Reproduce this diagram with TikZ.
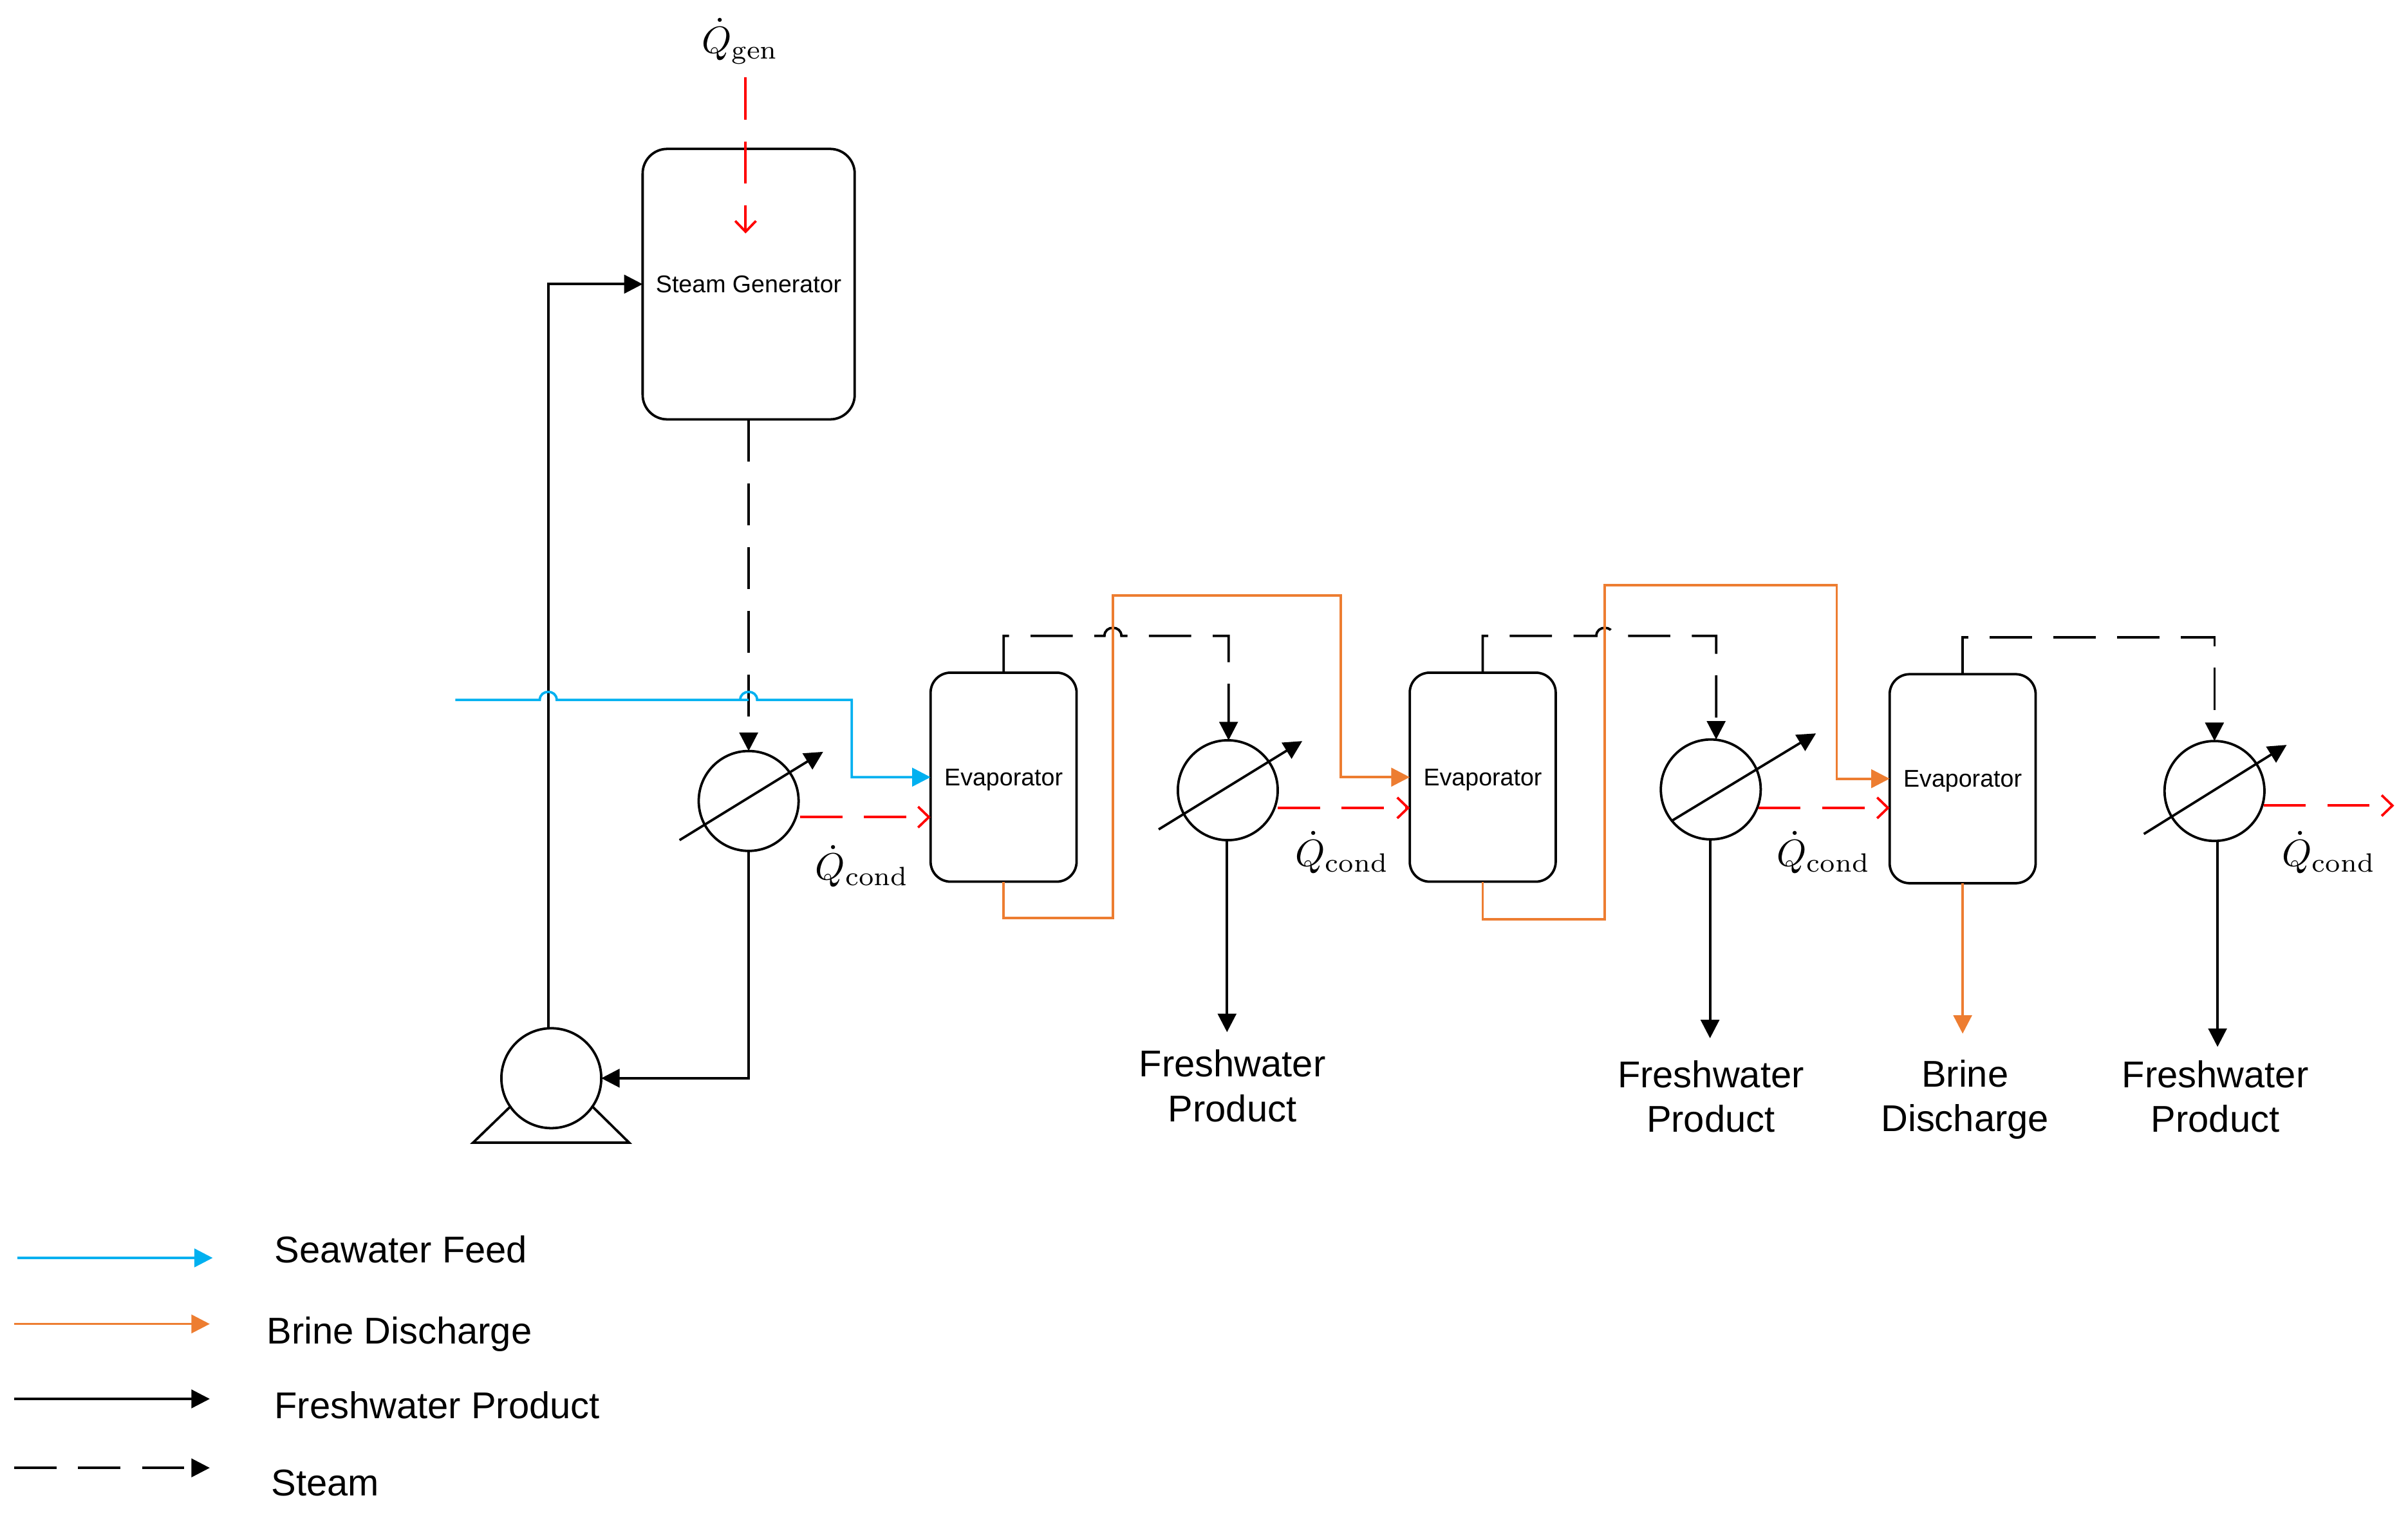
\documentclass[tikz,border=0pt]{standalone}
\usepackage{fix-cm}
\usepackage{fontspec}
\newfontfamily\arialfont{Liberation Sans}
\usetikzlibrary{arrows.meta}
\definecolor{feedblue}{HTML}{00B0F0}
\definecolor{brineorange}{HTML}{ED7D31}
\tikzset{
    >={Triangle[length=1.2mm,width=1.2mm]},
    every path/.style={line width=0.45pt},
    vessel/.style={draw,rectangle,inner sep=0pt,outer sep=0pt,rounded corners=0.13cm,minimum width=0.95cm,minimum height=1.36cm,text depth=0pt,font=\arialfont\fontsize{4.48}{5.4}\selectfont},
    exchanger/.style={draw,circle,inner sep=0pt,outer sep=0pt,minimum size=0.65cm},
    product/.style={->,color=black},
    brine/.style={->,color=brineorange},
    feed/.style={->,color=feedblue},
    steam/.style={->,color=black,dash pattern=on 2.75mm off 1.4mm},
    heat/.style={-{Straight Barb[length=0.7mm,width=1.35mm]},color=red,dash pattern=on 2.75mm off 1.4mm},
    biglabel/.style={align=center,inner sep=0pt,font=\arialfont\fontsize{6.9}{8.25}\selectfont},
    keylabel/.style={anchor=base west,inner sep=0pt,font=\arialfont\fontsize{6.9}{8.25}\selectfont},
    qlabel/.style={inner sep=0pt,scale=0.7}
}
\newcommand{\jumpat}[1]{-- ([xshift=-0.055cm]#1) .. controls ([shift={(-5.5,-7)}]#1) and ([shift={(5.5,-7)}]#1) .. ([xshift=0.055cm]#1) --}
\begin{document}
\begin{tikzpicture}[x=0.01cm,y=-0.01cm]
    \useasboundingbox (0,0) rectangle (1568,1000);
    % vessels and exchangers
    \node[vessel,rounded corners=0.16cm,minimum width=1.38cm,minimum height=1.76cm] (steamgen) at (487.5,185) {Steam Generator};
    \node[vessel] (evapa) at (653.5,506) {Evaporator};
    \node[vessel] (evapb) at (965.5,506) {Evaporator};
    \node[vessel] (evapc) at (1278,507) {Evaporator};
    \node[exchanger] (hxa) at (487.5,521.5) {};
    \node[exchanger] (hxb) at (799.5,514.5) {};
    \node[exchanger] (hxc) at (1114,514) {};
    \node[exchanger] (hxd) at (1442,515) {};
    \node[exchanger] (pump) at (359,702) {};
    \draw (332.8,720) -- (308,744) -- (409.7,744) -- (385.3,720);
    \draw[product] ([shift={(-45,25.5)}]hxa.center) -- ([shift={(48.5,-32)}]hxa.center);
    \draw[product] ([shift={(-45,25.5)}]hxb.center) -- ([shift={(48.5,-32)}]hxb.center);
    \draw[product] ([shift={(-24.7,20)}]hxc.center) -- ([shift={(68.5,-36.5)}]hxc.center);
    \draw[product] ([shift={(-46,28)}]hxd.center) -- ([shift={(47,-30)}]hxd.center);
    % turning points and free ends
    \coordinate (qgenin) at (485.5,50.5);
    \coordinate (qgenout) at (485.5,152);
    \coordinate (seain) at (296.5,455.7);
    \coordinate (seaturn) at (554.6,455.7);
    \coordinate (crossa) at (357,455.7);
    \coordinate (crossb) at (487.5,455.7);
    \coordinate (crossc) at (724.7,414);
    \coordinate (crossd) at (1045,414);
    \coordinate (steamb) at (800,414);
    \coordinate (steamc) at (1117.5,414);
    \coordinate (steamd) at (1442,415);
    \coordinate (brineaa) at (724.7,597.8);
    \coordinate (brineab) at (873,387.8);
    \coordinate (brineba) at (1045,598.5);
    \coordinate (brinebb) at (1196,381);
    \coordinate (brinec) at (1278,673);
    \coordinate (prodb) at (799,672);
    \coordinate (prodc) at (1113.5,676);
    \coordinate (prodd) at (1444,681.6);
    \coordinate (conda) at (521,532);
    \coordinate (condb) at (832,526);
    \coordinate (condc) at (1145,526);
    \coordinate (condd) at (1474,524.5);
    \coordinate (conddout) at (1559,524.5);
    % process lines
    \draw[heat] (qgenin) -- (qgenout);
    \draw[product] ([xshift=-0.02cm]pump.north) |- (steamgen.west);
    \draw[product] (hxa.south) |- (pump.east);
    \draw[steam] (steamgen.south) -- (hxa.north);
    \draw[feed] (seain) \jumpat{crossa} (crossb) ++(0,0) \jumpat{crossb} (seaturn) |- (evapa.west);
    \draw[steam] (evapa.north) -- (evapa.north |- steamb) \jumpat{crossc} (steamb) -- (hxb.north -| steamb);
    \draw[steam] (evapb.north) -- (evapb.north |- steamc) \jumpat{crossd} (steamc) -- (hxc.north -| steamc);
    \draw[steam] (evapc.north) -- (evapc.north |- steamd) -- (steamd) -- (hxd.north);
    \draw[brine] (evapa.south) |- (brineaa) |- (brineab) |- (evapb.west);
    \draw[brine] (evapb.south) |- (brineba) |- (brinebb) |- (evapc.west);
    \draw[brine] (evapc.south) -- (brinec);
    \draw[product] (prodb |- hxb.south) -- (prodb);
    \draw[product] (prodc |- hxc.south) -- (prodc);
    \draw[product] (prodd |- hxd.south) -- (prodd);
    \draw[heat] (conda) -- (conda -| evapa.west);
    \draw[heat] (condb) -- (condb -| evapb.west);
    \draw[heat] (condc) -- (condc -| evapc.west);
    \draw[heat] (condd) -- (conddout);
    % labels
    \node[qlabel] (qgen) at (482,27) {$\dot{Q}_{\mathrm{gen}}$};
    \node[qlabel] (qconda) at (561.5,564) {$\dot{Q}_{\mathrm{cond}}$};
    \node[qlabel] (qcondb) at (874,555) {$\dot{Q}_{\mathrm{cond}}$};
    \node[qlabel] (qcondc) at (1187.5,555) {$\dot{Q}_{\mathrm{cond}}$};
    \node[qlabel] (qcondd) at (1516.5,555) {$\dot{Q}_{\mathrm{cond}}$};
    \node[biglabel] (freshb) at (802.5,707) {Freshwater\\Product};
    \node[biglabel] (freshc) at (1114,714) {Freshwater\\Product};
    \node[biglabel] (dischargec) at (1279.5,716) {Brine\\Discharge};
    \node[biglabel] (freshd) at (1442.5,714) {Freshwater\\Product};
    % key
    \coordinate (keyaa) at (11.2,819);
    \coordinate (keyab) at (138.5,819);
    \coordinate (keyba) at (9.4,862);
    \coordinate (keybb) at (136.6,862);
    \coordinate (keyca) at (9.4,910.8);
    \coordinate (keycb) at (136.6,910.8);
    \coordinate (keyda) at (9.4,955.7);
    \coordinate (keydb) at (136.6,955.7);
    \draw[feed] (keyaa) -- (keyab);
    \draw[brine] (keyba) -- (keybb);
    \draw[product] (keyca) -- (keycb);
    \draw[steam] (keyda) -- (keydb);
    \node[keylabel] (keyfeed) at (178,822) {Seawater Feed};
    \node[keylabel] (keybrine) at (173,875) {Brine Discharge};
    \node[keylabel] (keyproduct) at (178,923.7) {Freshwater Product};
    \node[keylabel] (keysteam) at (176,973.8) {Steam};
\end{tikzpicture}
\end{document}
